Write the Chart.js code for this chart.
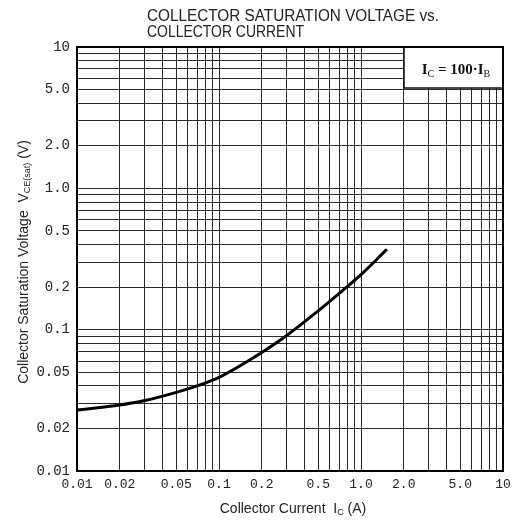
<!DOCTYPE html>
<html><head><meta charset="utf-8">
<script src="https://cdn.jsdelivr.net/npm/chart.js@4"></script>
<style>html,body{margin:0;padding:0;background:#fff}canvas{display:block}</style>
</head><body>
<canvas id="c" width="513" height="524"></canvas>
<script>
// Data (Ic in A, Vce(sat) in V)
const currentA = [0.01, 0.02, 0.03, 0.05, 0.07, 0.1, 0.2, 0.3, 0.5, 0.7, 1.0, 1.5];
const vceSat   = [0.027, 0.0293, 0.0315, 0.036, 0.040, 0.046, 0.069, 0.091, 0.136, 0.18, 0.245, 0.365];

// Grid lines (1..9 per decade)
const gridValues = [0.01,0.02,0.03,0.04,0.05,0.06,0.07,0.08,0.09,
                    0.1,0.2,0.3,0.4,0.5,0.6,0.7,0.8,0.9,
                    1,2,3,4,5,6,7,8,9,10];
const xTickValues = [0.01,0.02,0.05,0.1,0.2,0.5,1,2,5,10];
const xTickLabels = ['0.01','0.02','0.05','0.1','0.2','0.5','1.0','2.0','5.0','10'];
const yTickValues = [0.01,0.02,0.05,0.1,0.2,0.5,1,2,5,10];
const yTickLabels = ['0.01','0.02','0.05','0.1','0.2','0.5','1.0','2.0','5.0','10'];

const titleLines = ['COLLECTOR SATURATION VOLTAGE vs.', 'COLLECTOR CURRENT'];

function labelFor(values, labels, v) {
  for (let i = 0; i < values.length; i++) {
    if (Math.abs(values[i] - v) / values[i] < 1e-6) return labels[i];
  }
  return '';
}

function drawRuns(ctx, runs, x, y, align) {
  let total = 0;
  runs.forEach(r => { ctx.font = r.f; r.w = ctx.measureText(r.t).width; total += r.w; });
  let cx = align === 'center' ? x - total / 2 : x;
  runs.forEach(r => { ctx.font = r.f; ctx.fillText(r.t, cx, y + (r.dy || 0)); cx += r.w; });
}

const decor = {
  id: 'decor',
  afterDraw(chart) {
    const ctx = chart.ctx;
    const a = chart.chartArea;
    ctx.save();
    // annotation box
    const bx = 404, by = a.top, bw = a.right - 404, bh = 88 - a.top;
    ctx.fillStyle = '#fff';
    ctx.fillRect(bx, by, bw, bh);
    ctx.strokeStyle = '#111';
    ctx.lineWidth = 1.5;
    ctx.strokeRect(bx, by, bw, bh);
    ctx.fillStyle = '#111';
    ctx.textBaseline = 'alphabetic';
    drawRuns(ctx, [
      {t: 'I', f: 'bold 15px "Liberation Serif"'},
      {t: 'C', f: '10px "Liberation Serif"', dy: 3},
      {t: ' = 100\u00b7I', f: 'bold 15px "Liberation Serif"'},
      {t: 'B', f: '10px "Liberation Serif"', dy: 3}
    ], 456, 74, 'center');
    // frame
    ctx.strokeStyle = '#000';
    ctx.lineWidth = 2;
    ctx.strokeRect(a.left, a.top, a.right - a.left, a.bottom - a.top);
    // title
    ctx.fillStyle = '#222';
    ctx.font = '16px "Liberation Sans"';
    ctx.textAlign = 'left';
    ctx.fillText(titleLines[0], 147, 21, 292);
    ctx.fillText(titleLines[1], 147, 37, 157);
    // x axis title
    ctx.fillStyle = '#222';
    drawRuns(ctx, [
      {t: 'Collector Current  I', f: '14px "Liberation Sans"'},
      {t: 'C', f: '9px "Liberation Sans"', dy: 2},
      {t: ' (A)', f: '14px "Liberation Sans"'}
    ], 293, 513, 'center');
    // y axis title
    ctx.translate(28, 262);
    ctx.rotate(-Math.PI / 2);
    drawRuns(ctx, [
      {t: 'Collector Saturation Voltage  V', f: '14px "Liberation Sans"'},
      {t: 'CE(sat)', f: '9px "Liberation Sans"', dy: 2},
      {t: ' (V)', f: '14px "Liberation Sans"'}
    ], 0, 0, 'center');
    ctx.restore();
  }
};

new Chart(document.getElementById('c'), {
  type: 'line',
  data: {
    datasets: [{
      data: currentA.map((x, i) => ({x: x, y: vceSat[i]})),
      borderColor: '#000',
      borderWidth: 3,
      pointRadius: 0,
      fill: false,
      cubicInterpolationMode: 'monotone',
      borderCapStyle: 'round'
    }]
  },
  options: {
    responsive: false,
    animation: false,
    events: [],
    layout: {padding: {top: 47, right: 10, left: 0, bottom: 0}},
    plugins: {legend: {display: false}, title: {display: false}, tooltip: {enabled: false}},
    scales: {
      x: {
        type: 'logarithmic', min: 0.01, max: 10, position: 'bottom',
        afterBuildTicks: s => { s.ticks = gridValues.map(v => ({value: v})); },
        afterFit: s => { s.height = 53; s.paddingRight = 0; s.paddingLeft = 0; },
        ticks: {
          autoSkip: false, maxRotation: 0, minRotation: 0, padding: 6,
          font: {family: '"Liberation Mono", monospace', size: 13}, color: '#222',
          callback: v => labelFor(xTickValues, xTickLabels, v)
        },
        grid: {color: '#2a2a2a', lineWidth: 1, drawTicks: false},
        border: {display: true, color: '#000', width: 2}
      },
      y: {
        type: 'logarithmic', min: 0.01, max: 10,
        afterBuildTicks: s => { s.ticks = gridValues.map(v => ({value: v})); },
        afterFit: s => { s.width = 77; s.paddingTop = 0; s.paddingBottom = 0; },
        ticks: {
          autoSkip: false, padding: 7,
          font: {family: '"Liberation Mono", monospace', size: 14}, color: '#222',
          callback: v => labelFor(yTickValues, yTickLabels, v)
        },
        grid: {color: '#2a2a2a', lineWidth: 1, drawTicks: false},
        border: {display: true, color: '#000', width: 2}
      }
    }
  },
  plugins: [decor]
});
</script>
</body></html>
